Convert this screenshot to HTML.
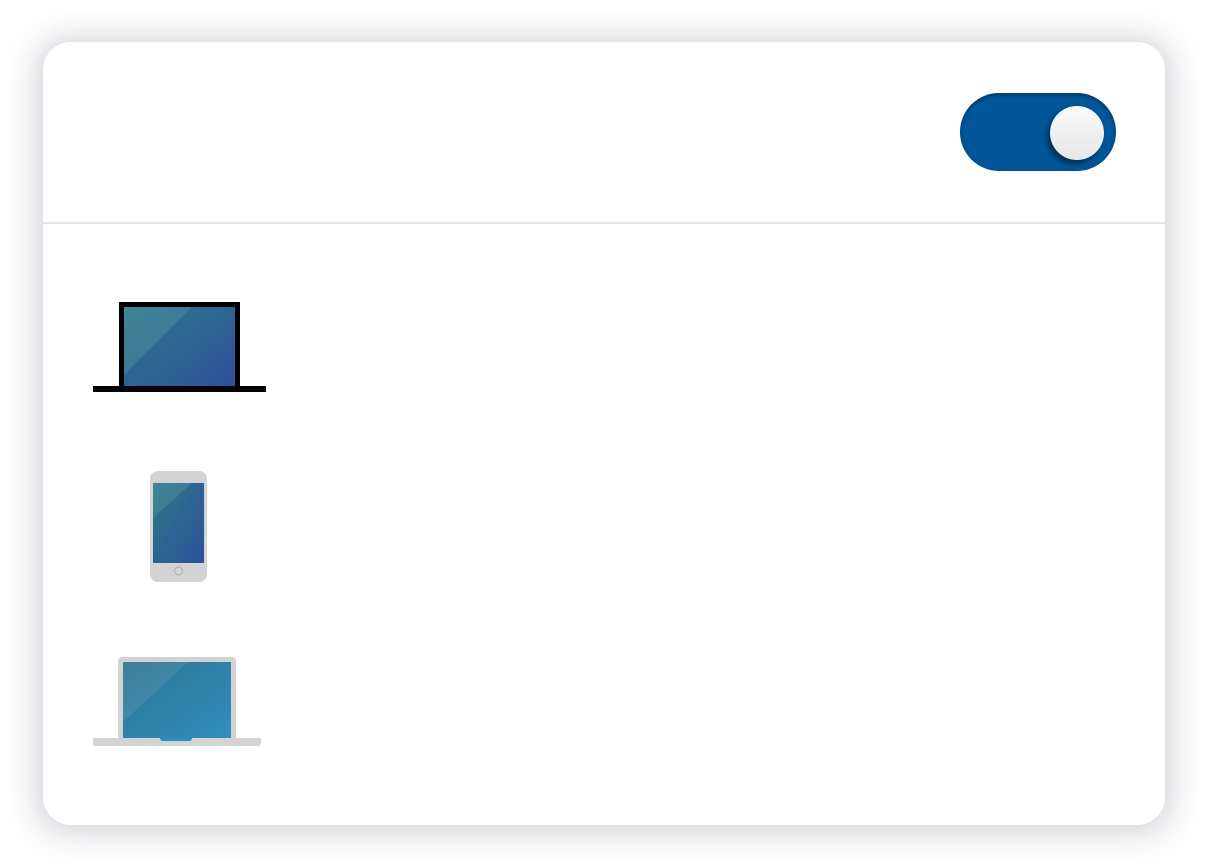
<!DOCTYPE html>
<html><head><meta charset="utf-8"><style>
html,body{margin:0;padding:0;width:1209px;height:867px;background:#fff;overflow:hidden;font-family:"Liberation Sans",sans-serif}
.card{position:absolute;left:43px;top:42px;width:1122px;height:783px;border-radius:28px;background:#fff;box-shadow:0 2px 30px 8px rgba(60,70,90,0.22)}
.div{position:absolute;left:43px;top:222px;width:1122px;height:2px;background:#e4e5e8}
.tog{position:absolute;left:960px;top:93px;width:156px;height:78px;border-radius:39px;background:#005698;box-shadow:inset 0 2px 4px rgba(0,0,0,0.35)}
.knob{position:absolute;left:1050px;top:106px;width:54px;height:54px;border-radius:50%;background:linear-gradient(#fafafa,#e6e6e6);box-shadow:-3px 4px 6px rgba(0,0,0,0.45)}
svg{position:absolute;left:0;top:0}
</style></head><body>
<div class="card"></div>
<div class="div"></div>
<div class="tog"></div><div class="knob"></div>
<svg width="1209" height="867">
<defs>
<linearGradient id="g1" x1="0" y1="0" x2="1" y2="1"><stop offset="0" stop-color="#2a7a86"/><stop offset="1" stop-color="#2f4f9c"/></linearGradient>
<linearGradient id="g2" x1="0" y1="0" x2="1" y2="1"><stop offset="0" stop-color="#2f7590"/><stop offset="1" stop-color="#2f8ec0"/></linearGradient>
</defs>
<rect x="119" y="302" width="121" height="86" fill="#000"/>
<rect x="124" y="307" width="111" height="79" fill="url(#g1)"/>
<polygon points="124,307 192,307 124,375" fill="#fff" opacity="0.1"/>
<rect x="93" y="386" width="173" height="6" fill="#000"/>
<rect x="150" y="471" width="57" height="111" rx="8" fill="#d3d3d3"/>
<rect x="153" y="483" width="51" height="80" fill="url(#g1)"/>
<polygon points="153,483 192,483 153,518" fill="#fff" opacity="0.1"/>
<circle cx="178.5" cy="571" r="4" fill="none" stroke="#aaa" stroke-width="0.8"/>
<rect x="118" y="657" width="118" height="84" rx="4" fill="#d3d3d3"/>
<rect x="123" y="662" width="108" height="76" fill="url(#g2)"/>
<polygon points="123,662 188,662 123,722" fill="#fff" opacity="0.08"/>
<path d="M93,738 H261 V743 Q261,746 258,746 H96 Q93,746 93,743 Z" fill="#d3d3d3"/>
<path d="M160,738 H192 Q192,741 189,741 H163 Q160,741 160,738 Z" fill="#2f8ec0"/>
</svg>
</body></html>
